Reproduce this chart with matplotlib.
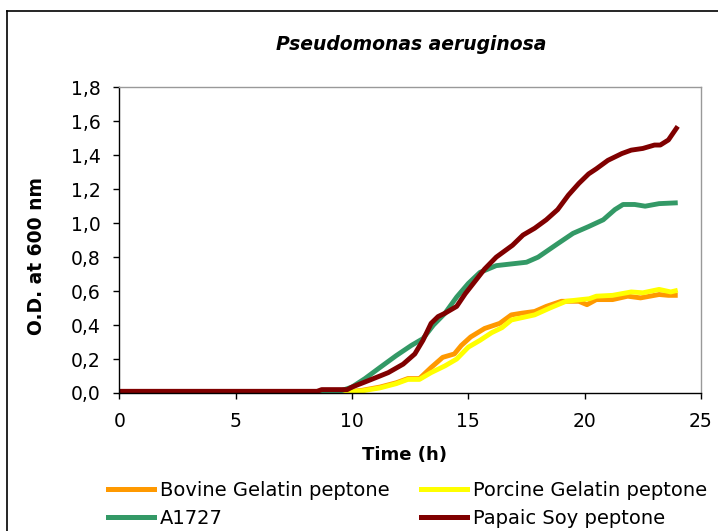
import matplotlib
matplotlib.use("Agg")
import matplotlib.pyplot as plt
from matplotlib.lines import Line2D

title = "Pseudomonas aeruginosa"
x_label = "Time (h)"
y_label = "O.D. at 600 nm"
series_names = ["Bovine Gelatin peptone", "Porcine Gelatin peptone", "A1727", "Papaic Soy peptone"]

bovine_t = [0, 8.0, 9.57, 10.4, 11.2, 11.9, 12.4, 12.9, 13.4, 13.9, 14.4, 14.7, 15.1, 15.7, 16.35,
            16.85, 17.3, 17.85, 18.35, 19.0, 19.75, 20.1, 20.5, 21.2, 21.85, 22.4, 23.2, 23.6, 24.0]
bovine_od = [0, 0, 0.005, 0.015, 0.035, 0.06, 0.085, 0.085, 0.15, 0.21, 0.23, 0.28, 0.33, 0.38, 0.41,
             0.46, 0.47, 0.48, 0.51, 0.54, 0.54, 0.52, 0.55, 0.55, 0.57, 0.56, 0.58, 0.575, 0.575]

porcine_t = [0, 8.0, 9.57, 10.4, 11.2, 11.9, 12.4, 12.9, 13.4, 14.0, 14.5, 15.0, 15.5, 16.0, 16.45,
             16.85, 17.35, 17.85, 18.5, 19.2, 19.85, 20.2, 20.5, 21.2, 22.0, 22.5, 23.2, 23.7, 24.0]
porcine_od = [0, 0, 0.002, 0.012, 0.03, 0.055, 0.08, 0.08, 0.12, 0.16, 0.20, 0.27, 0.31, 0.355, 0.385,
              0.43, 0.445, 0.46, 0.50, 0.54, 0.55, 0.555, 0.57, 0.575, 0.595, 0.59, 0.61, 0.595, 0.605]

a1727_t = [0, 9.0, 9.57, 10.0, 10.56, 11.2, 11.9, 12.55, 13.05, 13.5, 14.0, 14.5, 15.0, 15.5, 16.2,
           16.85, 17.5, 18.0, 18.85, 19.5, 20.17, 20.8, 21.3, 21.65, 22.15, 22.6, 23.2, 24.0]
a1727_od = [0.005, 0.005, 0.015, 0.035, 0.085, 0.15, 0.22, 0.28, 0.32, 0.40, 0.47, 0.565, 0.645, 0.71, 0.75,
            0.76, 0.77, 0.80, 0.88, 0.94, 0.98, 1.02, 1.08, 1.11, 1.11, 1.10, 1.115, 1.12]

papaic_t = [0, 8.5, 8.7, 9.8, 10.0, 10.56, 11.2, 11.56, 12.2, 12.7, 13.05, 13.4, 13.7, 14.0, 14.5,
            14.87, 15.3, 15.7, 16.2, 16.9, 17.35, 17.85, 18.35, 18.84, 19.3, 19.75, 20.17, 20.5, 21.0,
            21.6, 22.0, 22.5, 23.0, 23.25, 23.6, 24.0]
papaic_od = [0.01, 0.01, 0.02, 0.02, 0.035, 0.065, 0.1, 0.12, 0.17, 0.23, 0.31, 0.41, 0.45, 0.47, 0.51,
             0.585, 0.66, 0.73, 0.80, 0.87, 0.93, 0.97, 1.02, 1.08, 1.165, 1.234, 1.29, 1.32, 1.37,
             1.41, 1.43, 1.44, 1.46, 1.46, 1.49, 1.57]

x_ticks = [0, 5, 10, 15, 20, 25]
y_ticks = [0.0, 0.2, 0.4, 0.6, 0.8, 1.0, 1.2, 1.4, 1.6, 1.8]
y_tick_labels = ["0,0", "0,2", "0,4", "0,6", "0,8", "1,0", "1,2", "1,4", "1,6", "1,8"]

colors = ["#FF9900", "#FFFF00", "#339966", "#800000"]

W, H = 718, 531
plt.rcParams['font.family'] = ['DejaVu Sans']
fig = plt.figure(figsize=(W / 100, H / 100), dpi=100)
ax = fig.add_axes([119.3 / W, 1 - 393 / H, (701 - 119.3) / W, (393 - 87.3) / H])

lw = 3.5
for t, v, c in [(bovine_t, bovine_od, colors[0]), (porcine_t, porcine_od, colors[1]),
                (a1727_t, a1727_od, colors[2]), (papaic_t, papaic_od, colors[3])]:
    ax.plot(t, v, color=c, lw=lw, solid_capstyle='butt', solid_joinstyle='round')

ax.set_xlim(0, 25)
ax.set_ylim(0, 1.8)
ax.set_xticks(x_ticks)
ax.set_yticks(y_ticks)
ax.set_yticklabels(y_tick_labels)
ax.tick_params(axis='both', labelsize=13.5, length=4.5, width=1, direction='out', colors='black')
ax.tick_params(axis='x', pad=9)
ax.tick_params(axis='y', pad=9)
for s in ['left', 'bottom']:
    ax.spines[s].set_color('black')
    ax.spines[s].set_linewidth(1.0)
for s in ['top', 'right']:
    ax.spines[s].set_color('#999999')
    ax.spines[s].set_linewidth(1.0)

fig.text(405 / W, 1 - 455 / H, x_label, fontsize=13, fontweight='bold', ha='center', va='center')
fig.text(37 / W, 1 - 256 / H, y_label, fontsize=13.5, fontweight='bold', rotation=90,
         ha='center', va='center')
fig.text(411 / W, 1 - 44 / H, title, fontsize=13.5, fontweight='bold', fontstyle='italic',
         ha='center', va='center')

# legend laid out row-wise: column-major order for matplotlib
handles = [Line2D([0], [0], color=c, lw=3.6) for c in colors]
order = [0, 2, 1, 3]
fig.legend([handles[i] for i in order], [series_names[i] for i in order],
           loc='upper left', bbox_to_anchor=(108 / W, 1 - 481 / H),
           ncol=2, frameon=False, fontsize=14, handlelength=2.37, handletextpad=0.31,
           columnspacing=1.6, labelspacing=0.45, borderaxespad=0, borderpad=0)

# outer chart-area border (left and top visible)
fig.add_artist(Line2D([6.5 / W, 6.5 / W], [0, 1 - 11 / H], color='black', lw=1.2,
                      transform=fig.transFigure))
fig.add_artist(Line2D([6.5 / W, 1], [1 - 11 / H, 1 - 11 / H], color='black', lw=1.2,
                      transform=fig.transFigure))

fig.savefig("out.png", dpi=100)
